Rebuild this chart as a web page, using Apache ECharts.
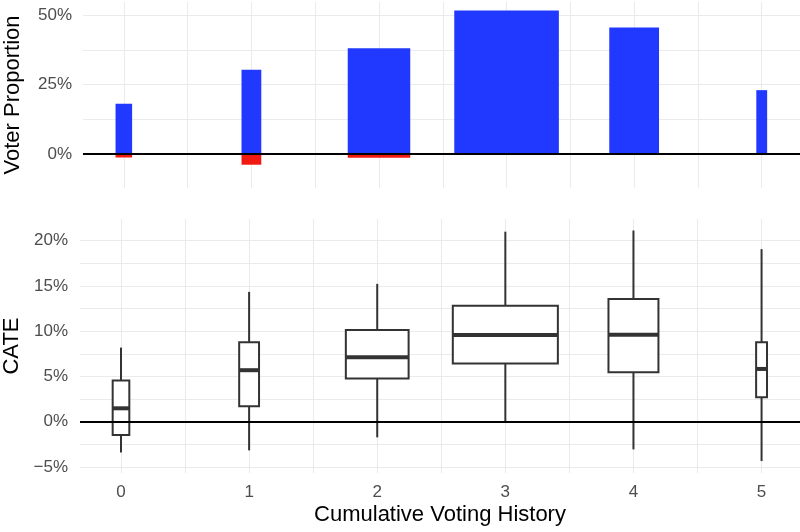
<!DOCTYPE html>
<html>
<head>
<meta charset="utf-8">
<script src="https://cdn.jsdelivr.net/npm/echarts@6/dist/echarts.min.js"></script>
<style>
html,body{margin:0;padding:0;background:#fff;}
#chart{width:800px;height:532px;}
</style>
</head>
<body>
<div id="chart"></div>
<script>
// ---- data ----
const categories = [0, 1, 2, 3, 4, 5];
const groupWidth = [0.13, 0.155, 0.49, 0.82, 0.39, 0.085];
const voterPositive = [0.181, 0.304, 0.381, 0.517, 0.456, 0.230];
const voterNegative = [-0.013, -0.039, -0.014, 0, 0, 0];
// boxplot stats: [lower whisker, Q1, median, Q3, upper whisker]
const cateLow    = [-0.034, -0.0317, -0.0173, -0.0007, -0.0306, -0.0435];
const cateQ1     = [-0.0147, 0.017, 0.0476, 0.0642, 0.0546, 0.027];
const cateMedian = [0.0148, 0.0569, 0.0712, 0.0959, 0.0962, 0.0583];
const cateQ3     = [0.0454, 0.0878, 0.1014, 0.128, 0.1357, 0.0878];
const cateHigh   = [0.0819, 0.1435, 0.1523, 0.210, 0.2113, 0.1907];
const topTicks = [0, 0.125, 0.25, 0.375, 0.5];
const topLabels = [0, 0.25, 0.5];
const bottomTicks = [-0.05, -0.025, 0, 0.025, 0.05, 0.075, 0.1, 0.125, 0.15, 0.175, 0.2];
const bottomLabels = [-0.05, 0, 0.05, 0.1, 0.15, 0.2];
const xTicks = [0, 0.5, 1, 1.5, 2, 2.5, 3, 3.5, 4, 4.5, 5];

const FONT = 'Liberation Sans, Arial, Helvetica, sans-serif';
const pct = v => {
  const r = Math.round(v * 100);
  return (r < 0 ? '\u2212' + Math.abs(r) : r) + '%';
};
const gridLine = {show: true, lineStyle: {color: '#ebebeb', width: 1.1}};

const barData = (vals) => categories.map((c, i) => [c, groupWidth[i], vals[i]]);
const boxData = categories.map((c, i) => [c, groupWidth[i], cateLow[i], cateQ1[i], cateMedian[i], cateQ3[i], cateHigh[i]]);

function renderBar(color) {
  return function (params, api) {
    const x = api.value(0), w = api.value(1), v = api.value(2);
    if (v === 0) return null;
    const a = api.coord([x - w / 2, 0]);
    const b = api.coord([x + w / 2, v]);
    return {
      type: 'rect',
      shape: {x: a[0], y: Math.min(a[1], b[1]), width: b[0] - a[0], height: Math.abs(b[1] - a[1])},
      style: {fill: color}
    };
  };
}

function renderBox(params, api) {
  const x = api.value(0), w = api.value(1);
  const lo = api.value(2), q1 = api.value(3), md = api.value(4), q3 = api.value(5), hi = api.value(6);
  const L = api.coord([x - w / 2, q3]);
  const R = api.coord([x + w / 2, q1]);
  const pLo = api.coord([x, lo]), pQ1 = api.coord([x, q1]), pQ3 = api.coord([x, q3]), pHi = api.coord([x, hi]);
  const pMd = api.coord([x, md]);
  const stroke = '#333333';
  return {
    type: 'group',
    children: [
      {type: 'line', shape: {x1: pHi[0], y1: pHi[1], x2: pQ3[0], y2: pQ3[1]}, style: {stroke, lineWidth: 2}},
      {type: 'line', shape: {x1: pQ1[0], y1: pQ1[1], x2: pLo[0], y2: pLo[1]}, style: {stroke, lineWidth: 2}},
      {type: 'rect', shape: {x: L[0], y: L[1], width: R[0] - L[0], height: R[1] - L[1]}, style: {fill: '#ffffff', stroke, lineWidth: 2}},
      {type: 'line', shape: {x1: L[0], y1: pMd[1], x2: R[0], y2: pMd[1]}, style: {stroke, lineWidth: 4}}
    ]
  };
}

const zeroLine = {
  silent: true, symbol: 'none', label: {show: false},
  lineStyle: {color: '#000000', width: 1.8, type: 'solid'},
  emphasis: {disabled: true},
  data: [{yAxis: 0}]
};

const chart = echarts.init(document.getElementById('chart'), null, {renderer: 'canvas'});
chart.setOption({
  animation: false,
  backgroundColor: '#ffffff',
  textStyle: {fontFamily: FONT},
  grid: [
    {left: 83, right: 0, top: 2, height: 186, containLabel: false, outerBoundsMode: 'none'},
    {left: 80, right: 0, top: 219, height: 254, containLabel: false, outerBoundsMode: 'none'}
  ],
  xAxis: [
    {
      gridIndex: 0, type: 'value', min: -0.32, max: 5.3,
      axisLine: {show: false}, axisTick: {show: false, customValues: xTicks},
      axisLabel: {show: false}, splitLine: gridLine
    },
    {
      gridIndex: 1, type: 'value', min: -0.32, max: 5.3,
      name: 'Cumulative Voting History', nameLocation: 'middle', nameGap: 31,
      nameTextStyle: {color: '#000000', fontSize: 22, fontFamily: FONT},
      axisLine: {show: false}, axisTick: {show: false, customValues: xTicks},
      axisLabel: {show: true, customValues: categories, color: '#4d4d4d', fontSize: 17, margin: 11, fontFamily: FONT},
      splitLine: gridLine
    }
  ],
  yAxis: [
    {
      gridIndex: 0, type: 'value', min: -0.123, max: 0.548,
      name: 'Voter Proportion', nameLocation: 'middle', nameGap: 59,
      nameTextStyle: {color: '#000000', fontSize: 22, fontFamily: FONT},
      axisLine: {show: false}, axisTick: {show: false, customValues: topTicks},
      axisLabel: {customValues: topLabels, formatter: pct, color: '#4d4d4d', fontSize: 17, margin: 11, fontFamily: FONT},
      splitLine: gridLine
    },
    {
      gridIndex: 1, type: 'value', min: -0.0567, max: 0.224,
      name: 'CATE', nameLocation: 'middle', nameGap: 57,
      nameTextStyle: {color: '#000000', fontSize: 22, fontFamily: FONT},
      axisLine: {show: false}, axisTick: {show: false, customValues: bottomTicks},
      axisLabel: {customValues: bottomLabels, formatter: pct, color: '#4d4d4d', fontSize: 17, margin: 12, fontFamily: FONT},
      splitLine: gridLine
    }
  ],
  series: [
    {
      type: 'custom', name: 'positive', xAxisIndex: 0, yAxisIndex: 0,
      renderItem: renderBar('#2139ff'), data: barData(voterPositive),
      encode: {x: [0], y: [2]}, silent: true
    },
    {
      type: 'custom', name: 'negative', xAxisIndex: 0, yAxisIndex: 0,
      renderItem: renderBar('#f01a12'), data: barData(voterNegative),
      encode: {x: [0], y: [2]}, silent: true,
      markLine: zeroLine
    },
    {
      type: 'custom', name: 'CATE', xAxisIndex: 1, yAxisIndex: 1,
      renderItem: renderBox, data: boxData,
      encode: {x: [0], y: [2, 6]}, silent: true,
      markLine: zeroLine
    }
  ]
});
</script>
</body>
</html>
